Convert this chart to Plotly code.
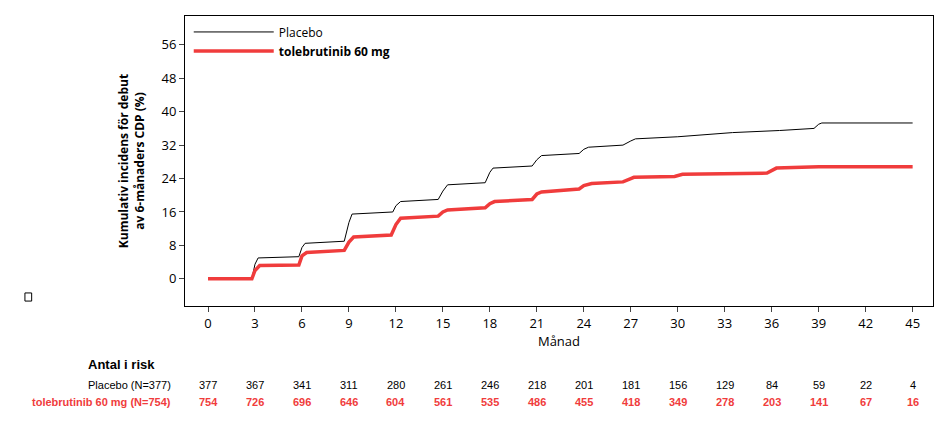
import plotly.graph_objects as go

# step curves (month, cumulative %)
pbo_t = [0, 2.8, 3.0, 3.2, 5.8, 6.0, 6.2, 8.7, 9.0, 9.2, 11.8, 12.0, 12.3, 14.7, 15.0, 15.3,
         17.7, 18.0, 18.2, 20.7, 21.0, 21.3, 23.7, 24.0, 24.3, 26.5, 27.0, 27.3, 30.0, 32.0,
         33.5, 36.5, 38.7, 39.0, 39.2, 45]
pbo_y = [0, 0, 3.5, 5.0, 5.3, 7.5, 8.5, 9.0, 13.5, 15.5, 16.0, 17.5, 18.5, 19.0, 21.0, 22.5,
         23.0, 25.5, 26.5, 27.0, 28.5, 29.5, 30.0, 31.0, 31.5, 32.0, 33.0, 33.5, 34.0, 34.5,
         35.0, 35.5, 36.0, 37.0, 37.3, 37.3]
tol_t = [0, 2.8, 3.0, 3.3, 5.8, 6.0, 6.3, 8.7, 9.0, 9.3, 11.7, 12.0, 12.3, 14.7, 15.0, 15.3,
         17.7, 18.0, 18.3, 20.7, 21.0, 21.3, 23.7, 24.0, 24.5, 26.5, 27.0, 27.2, 29.8, 30.3,
         35.7, 36.3, 39, 45]
tol_y = [0, 0, 2.0, 3.2, 3.3, 5.5, 6.3, 6.8, 8.8, 10.0, 10.5, 13.0, 14.5, 15.0, 16.0, 16.5,
         17.0, 18.0, 18.5, 19.0, 20.3, 20.8, 21.5, 22.3, 22.8, 23.2, 24.0, 24.3, 24.5, 25.0,
         25.3, 26.5, 26.8, 26.8]

risk_months = list(range(0, 46, 3))
risk_pbo = [377, 367, 341, 311, 280, 261, 246, 218, 201, 181, 156, 129, 84, 59, 22, 4]
risk_tol = [754, 726, 696, 646, 604, 561, 535, 486, 455, 418, 349, 278, 203, 141, 67, 16]

RED = "#f03c3c"
FONT = "Open Sans"
TFONT = "Liberation Sans"

fig = go.Figure()
fig.add_trace(go.Scatter(x=pbo_t, y=pbo_y, mode="lines", line=dict(color="black", width=1),
                         name="Placebo"))
fig.add_trace(go.Scatter(x=tol_t, y=tol_y, mode="lines", line=dict(color=RED, width=3.5),
                         name="<b>tolebrutinib 60 mg</b>"))

ann = []
for m, p, t in zip(risk_months, risk_pbo, risk_tol):
    ann.append(dict(x=m, y=-0.30, xref="x", yref="paper", text=str(p), showarrow=False,
                    font=dict(size=11, color="black", family=TFONT)))
    ann.append(dict(x=m, y=-0.36, xref="x", yref="paper", text=f"<b>{t}</b>", showarrow=False,
                    font=dict(size=11, color=RED, family=TFONT)))
ann += [
    dict(x=-0.016, y=-0.30, xref="paper", yref="paper", xanchor="right", text="Placebo (N=377)",
         showarrow=False, font=dict(size=11, color="black", family=TFONT)),
    dict(x=-0.016, y=-0.36, xref="paper", yref="paper", xanchor="right",
         text="<b>tolebrutinib 60 mg (N=754)</b>", showarrow=False,
         font=dict(size=11, color=RED, family=TFONT)),
    dict(x=-0.132, y=-0.234, xref="paper", yref="paper", xanchor="left", text="<b>Antal i risk</b>",
         showarrow=False, font=dict(size=13, color="black", family=TFONT)),
]

fig.update_layout(
    width=945, height=422,
    margin=dict(l=177, r=20, t=8, b=124),
    plot_bgcolor="white", paper_bgcolor="white",
    font=dict(family=FONT, size=13, color="black"),
    showlegend=True,
    legend=dict(x=0.005, y=0.995, xanchor="left", yanchor="top", bgcolor="rgba(0,0,0,0)",
                font=dict(size=12), itemwidth=80, tracegroupgap=0),
    xaxis=dict(range=[-1.47, 46.3], tickvals=risk_months, ticks="outside", ticklen=5,
               showgrid=False, zeroline=False, showline=True, mirror=True, linecolor="black",
               automargin=False, title=dict(text="Månad", standoff=4, font=dict(size=13))),
    yaxis=dict(range=[-6.5, 62.9], tickvals=[0, 8, 16, 24, 32, 40, 48, 56], ticks="outside",
               ticklen=5, showgrid=False, zeroline=False, showline=True, mirror=True,
               linecolor="black", automargin=False,
               title=dict(text="<b>Kumulativ incidens för debut<br>av 6-månaders CDP (%)</b>",
                          font=dict(size=12), standoff=14)),
    annotations=ann,
)
fig.add_shape(type="rect", xref="paper", yref="paper", x0=-0.214, x1=-0.205, y0=0.017, y1=0.045,
              line=dict(color="black", width=1))

fig.write_html("out.html")
